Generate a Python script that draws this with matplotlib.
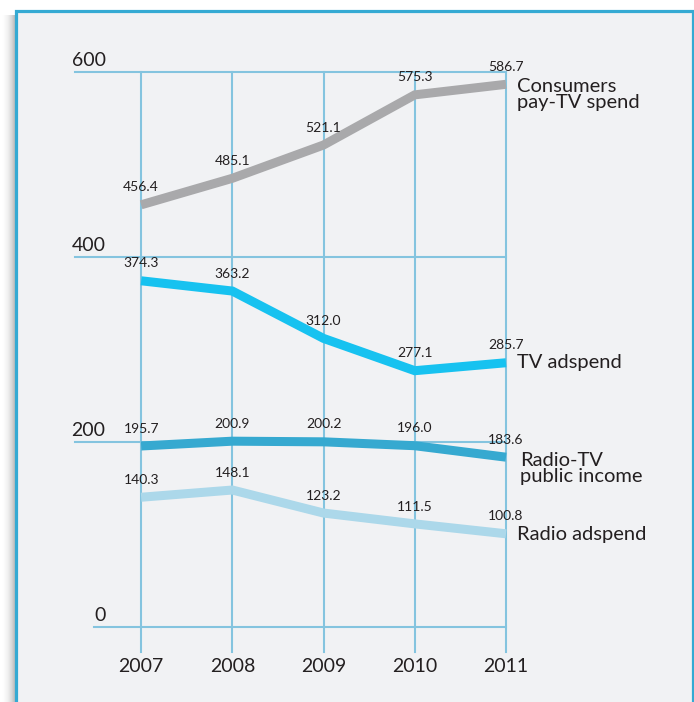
import numpy as np
import matplotlib.pyplot as plt
from matplotlib.patches import Rectangle

plt.rcParams['font.family'] = ['Lato', 'DejaVu Sans']

years = [2007, 2008, 2009, 2010, 2011]
pay_tv = [456.4, 485.1, 521.1, 575.3, 586.7]
tv_ad = [374.3, 363.2, 312.0, 277.1, 285.7]
public_income = [195.7, 200.9, 200.2, 196.0, 183.6]
radio_ad = [140.3, 148.1, 123.2, 111.5, 100.8]

series_names = ["Consumers\npay-TV spend", "TV adspend", "Radio-TV\npublic income", "Radio adspend"]
series_values = [pay_tv, tv_ad, public_income, radio_ad]
series_colors = ["#a9a9ab", "#17c2f0", "#36a9d0", "#acd8ea"]
# where the series name sits (y in data units, x offset in years from 2011)
name_y = [576, 285.7, 171, 99.5]
name_dx = [0.12, 0.12, 0.15, 0.12]

y_ticks = [0, 200, 400, 600]
grid_color = "#84c4df"
text_color = "#231f20"

W, H = 694, 702
fig = plt.figure(figsize=(W / 100, H / 100), dpi=100)
fig.patch.set_facecolor("white")

# soft shadow on the left of the panel
sh = fig.add_axes([2 / W, 0, 13 / W, (H - 15) / H], zorder=-2)
grad = np.linspace(0, 1, 50)[None, :] ** 1.4
sh.imshow(grad, aspect="auto", cmap="Greys", vmin=0, vmax=2.6, extent=[0, 1, 0, 1])
sh.axis("off")

# panel
fig.patches.append(Rectangle((15.5 / W, -0.05), (692.5 - 15.5) / W, 1.05 - 10.5 / H,
                             transform=fig.transFigure, facecolor="#f1f2f4",
                             edgecolor="#35aad3", linewidth=2.3, zorder=-1))

left_px, right_px = 75, 506
top_px, bottom_px = 72, 652
ax = fig.add_axes([left_px / W, (H - bottom_px) / H,
                   (right_px - left_px) / W, (bottom_px - top_px) / H], zorder=1)
ax.set_xlim(2006.275, 2011)
ax.set_ylim(-27, 600)
ax.axis("off")

# grid
for v in y_ticks:
    x0 = 2006.48 if v == 0 else 2006.275
    ax.plot([x0, 2011], [v, v], color=grid_color, lw=1.5, clip_on=False, zorder=1)
    ax.text(2006.61, v + 3, str(v), ha="right", va="bottom", fontsize=14,
            color=text_color)
for yr in years:
    ax.plot([yr, yr], [-27, 600], color=grid_color, lw=1.5, clip_on=False, zorder=1)
    ax.text(yr, -33, str(yr), ha="center", va="top", fontsize=14, color=text_color)

# series
for name, vals, col, ny, dx in zip(series_names, series_values, series_colors, name_y, name_dx):
    ax.plot(years, vals, color=col, lw=6.5, solid_capstyle="butt",
            solid_joinstyle="miter", clip_on=False, zorder=3)
    for yr, v in zip(years, vals):
        ax.annotate(f"{v:.1f}", (yr, v), xytext=(0, 12.5), textcoords="offset points",
                    ha="center", va="center", fontsize=10, color=text_color, zorder=4)
    ax.text(2011 + dx, ny, name, ha="left", va="center", fontsize=14.5,
            color=text_color, linespacing=0.92)

fig.savefig("out.png", dpi=100)
